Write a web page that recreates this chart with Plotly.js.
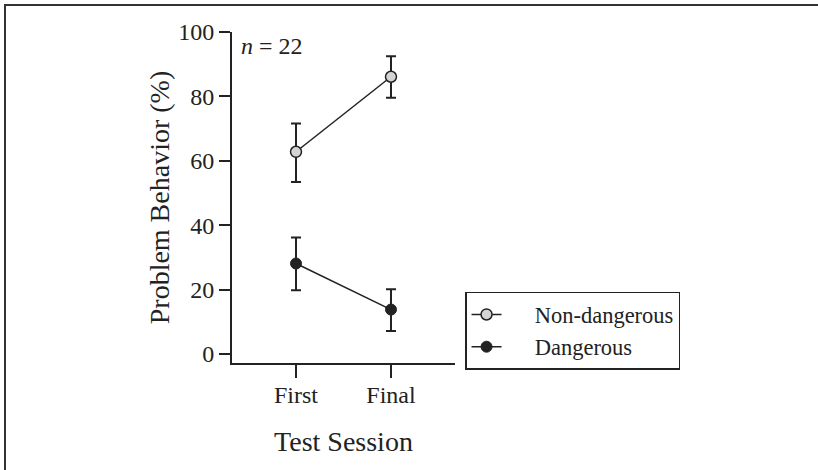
<!DOCTYPE html>
<html>
<head>
<meta charset="utf-8">
<script src="https://cdn.plot.ly/plotly-3.0.1.min.js"></script>
<style>
  html, body { margin: 0; padding: 0; background: #fff; }
  #wrap { position: relative; width: 818px; height: 470px; }
  #chart { position: absolute; left: 0; top: 0; width: 818px; height: 470px; }
  #frame { position: absolute; left: 4px; top: 4px; width: 830px; height: 480px;
           border-top: 2px solid #333; border-left: 2px solid #333; pointer-events: none; }
</style>
</head>
<body>
<div id="wrap">
  <div id="chart"></div>
  <div id="frame"></div>
</div>
<script>
// ---- data ----
const sessions = ["First", "Final"];
const nonDangerousMean = [62.8, 86.1];
const nonDangerousErrPlus = [8.8, 6.4];
const nonDangerousErrMinus = [9.4, 6.5];
const dangerousMean = [28.1, 13.8];
const dangerousErrPlus = [8.1, 6.3];
const dangerousErrMinus = [8.3, 6.7];
const yTicks = [0, 20, 40, 60, 80, 100];
const seriesNames = ["Non-dangerous", "Dangerous"];
const annotationText = "<i>n</i> = 22";

const FONT = "Liberation Serif";
const INK = "#222";
const PAD = "\u00A0".repeat(5);

const traces = [
  {
    x: sessions, y: nonDangerousMean, name: PAD + seriesNames[0],
    type: "scatter", mode: "lines+markers",
    line: { color: INK, width: 1.5 },
    marker: { size: 11, color: "#d4d4d4", line: { color: INK, width: 1.5 } },
    error_y: { type: "data", symmetric: false, array: nonDangerousErrPlus,
               arrayminus: nonDangerousErrMinus, color: INK, thickness: 2, width: 5 }
  },
  {
    x: sessions, y: dangerousMean, name: PAD + seriesNames[1],
    type: "scatter", mode: "lines+markers",
    line: { color: INK, width: 1.5 },
    marker: { size: 11, color: INK, line: { color: INK, width: 1 } },
    error_y: { type: "data", symmetric: false, array: dangerousErrPlus,
               arrayminus: dangerousErrMinus, color: INK, thickness: 2, width: 5 }
  }
];

const layout = {
  width: 818, height: 470,
  margin: { l: 232, r: 363, t: 32, b: 107, pad: 0 },
  paper_bgcolor: "#fff", plot_bgcolor: "#fff",
  font: { family: FONT, color: INK, size: 24 },
  showlegend: true,
  legend: {
    x: 1.045, y: 0.215, xanchor: "left", yanchor: "top",
    bordercolor: INK, borderwidth: 1.5, bgcolor: "#fff",
    font: { family: FONT, size: 22.5, color: INK },
    tracegroupgap: 0, itemwidth: 30
  },
  xaxis: {
    type: "category", categoryorder: "array", categoryarray: sessions,
    range: [-0.674, 1.674], showgrid: false, zeroline: false,
    showline: true, linecolor: INK, linewidth: 2,
    ticks: "outside", ticklen: 13, tickwidth: 2, tickcolor: INK,
    ticklabelstandoff: -4,
    tickfont: { family: FONT, size: 24, color: INK },
    title: { text: "Test Session", font: { family: FONT, size: 28, color: INK }, standoff: 25 },
    automargin: false, fixedrange: true
  },
  yaxis: {
    range: [-2.8, 100], tickvals: yTicks, ticktext: yTicks.map(String),
    showgrid: false, zeroline: false,
    showline: true, linecolor: INK, linewidth: 2,
    ticks: "outside", ticklen: 11, tickwidth: 2, tickcolor: INK,
    tickfont: { family: FONT, size: 24, color: INK },
    title: { text: "Problem Behavior (%)", font: { family: FONT, size: 28, color: INK }, standoff: 0 },
    automargin: false, fixedrange: true
  },
  annotations: [
    { xref: "paper", yref: "y", x: 0.03, y: 95.8, xanchor: "left", yanchor: "middle",
      text: annotationText, showarrow: false,
      font: { family: FONT, size: 24, color: INK } }
  ]
};

Plotly.newPlot("chart", traces, layout, { displayModeBar: false, staticPlot: true });
</script>
</body>
</html>
